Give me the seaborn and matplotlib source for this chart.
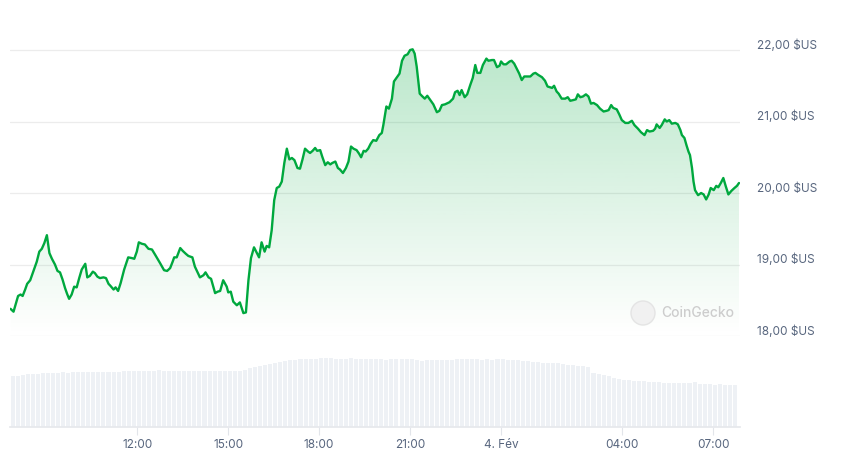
import matplotlib

matplotlib.use("Agg")
import matplotlib.pyplot as plt  # noqa: E402
import matplotlib.transforms as mtransforms  # noqa: E402
import numpy as np  # noqa: E402
import seaborn as sns  # noqa: E402
from matplotlib.patches import Circle  # noqa: E402

# price samples: minutes after 07:48 (3 Feb) and price in $US
minutes = [
    1, 7, 12, 16, 21, 25, 30, 34, 40, 46,
    53, 58, 63, 68, 73, 78, 83, 89, 94, 99,
    104, 109, 113, 117, 122, 127, 132, 137, 142, 149,
    153, 158, 164, 168, 173, 178, 185, 190, 195, 199,
    205, 209, 214, 219, 226, 234, 241, 246, 251, 255,
    261, 267, 274, 281, 287, 297, 305, 311, 317, 322,
    325, 330, 337, 342, 348,
    353, 361, 366, 376, 383, 387, 393, 398, 406, 411,
    416, 422, 429, 432, 437, 442, 449, 455, 462, 467,
    472, 477, 483, 488, 493, 498, 504, 508, 513, 518,
    523, 528, 533, 538, 543, 548, 553, 558, 563, 569,
    574, 579, 584, 590, 594, 599, 604, 608, 614, 618,
    624, 629, 634, 638, 644, 649, 653, 659, 665, 670,
    675, 680, 686, 691, 695, 700, 704, 709, 714, 719,
    725, 731, 736, 739,
    745, 750, 756, 760, 767, 771, 776, 781, 787, 792,
    797, 801, 805, 811, 815, 821, 826, 832, 838, 845,
    850, 855, 861, 870, 877, 881, 886, 890, 894, 900,
    905, 911, 916, 921, 925, 931, 936, 943, 947, 954,
    958, 964, 969, 972, 977, 982, 989, 993, 998, 1003,
    1008, 1013, 1018, 1024, 1030, 1036, 1040, 1046, 1053, 1059,
    1064, 1073, 1077, 1082,
    1086, 1092, 1099, 1104, 1109, 1115, 1120, 1124, 1129, 1134,
    1140, 1145, 1150, 1155, 1162, 1168, 1175, 1181, 1185, 1190,
    1194, 1201, 1206, 1211, 1218, 1224, 1231, 1236, 1243, 1249,
    1256, 1261, 1266, 1273, 1277, 1280, 1286, 1290, 1296, 1300,
    1305, 1310, 1317, 1322, 1327, 1330, 1335, 1339, 1343, 1346,
    1350, 1353, 1356, 1362, 1368, 1373, 1378, 1383, 1387, 1393,
    1398, 1402, 1407, 1412, 1417, 1422, 1428, 1434, 1439, 1443,
]
prices = [
    18.38, 18.34, 18.46, 18.56, 18.58, 18.56, 18.65, 18.73, 18.78, 18.90,
    19.04, 19.18, 19.22, 19.30, 19.41, 19.16, 19.08, 19.00, 18.91, 18.89,
    18.79, 18.67, 18.59, 18.52, 18.58, 18.69, 18.68, 18.81, 18.93, 19.01,
    18.82, 18.84, 18.90, 18.88, 18.83, 18.81, 18.82, 18.81, 18.73, 18.70,
    18.65, 18.68, 18.63, 18.74, 18.93, 19.10, 19.09, 19.08, 19.18, 19.31,
    19.29, 19.28, 19.22, 19.21, 19.14, 19.02, 18.92, 18.91, 18.95, 19.04,
    19.10, 19.10, 19.23, 19.19, 19.15,
    19.12, 19.10, 18.97, 18.82, 18.85, 18.89, 18.82, 18.80, 18.60, 18.62,
    18.63, 18.78, 18.69, 18.61, 18.62, 18.48, 18.43, 18.47, 18.32, 18.33,
    18.78, 19.09, 19.24, 19.17, 19.10, 19.31, 19.18, 19.26, 19.24, 19.48,
    19.90, 20.07, 20.09, 20.16, 20.42, 20.62, 20.47, 20.49, 20.46, 20.35,
    20.34, 20.47, 20.62, 20.58, 20.56, 20.59, 20.63, 20.59, 20.60, 20.51,
    20.39, 20.43, 20.40, 20.42, 20.44, 20.35, 20.33, 20.28, 20.35, 20.44,
    20.65, 20.62, 20.60, 20.55, 20.50, 20.59, 20.58, 20.62, 20.69, 20.74,
    20.73, 20.81, 20.84, 20.95,
    21.21, 21.18, 21.32, 21.56, 21.63, 21.67, 21.85, 21.92, 21.94, 22.00,
    22.01, 21.95, 21.77, 21.39, 21.36, 21.32, 21.36, 21.30, 21.24, 21.13,
    21.15, 21.23, 21.24, 21.27, 21.32, 21.41, 21.43, 21.37, 21.44, 21.34,
    21.38, 21.51, 21.61, 21.79, 21.68, 21.68, 21.79, 21.88, 21.85, 21.86,
    21.86, 21.76, 21.78, 21.84, 21.80, 21.80, 21.84, 21.85, 21.81, 21.74,
    21.67, 21.58, 21.63, 21.63, 21.63, 21.67, 21.68, 21.65, 21.62, 21.57,
    21.49, 21.47, 21.50, 21.42,
    21.39, 21.32, 21.32, 21.34, 21.29, 21.30, 21.31, 21.38, 21.34, 21.35,
    21.38, 21.35, 21.25, 21.26, 21.23, 21.18, 21.14, 21.15, 21.16, 21.23,
    21.19, 21.17, 21.10, 21.02, 20.98, 20.98, 21.01, 20.95, 20.90, 20.85,
    20.81, 20.88, 20.86, 20.87, 20.90, 20.96, 20.91, 20.95, 21.03, 21.00,
    21.02, 20.97, 20.98, 20.96, 20.88, 20.81, 20.77, 20.67, 20.58, 20.53,
    20.35, 20.16, 20.04, 19.97, 20.00, 19.98, 19.91, 19.98, 20.07, 20.04,
    20.10, 20.08, 20.14, 20.21, 20.09, 19.98, 20.03, 20.07, 20.10, 20.14,
]

# volume bars, one per 10 minutes (arbitrary units)
volume = [
    51, 51.5, 52.5, 53, 53.5, 53.5, 54, 54, 54.5, 54.5,
    55, 54.5, 55, 55, 55.5, 55, 55, 55, 55.5, 55.5,
    55.5, 55.5, 56, 56, 56, 56.5, 56.5, 56.5, 56.5, 57,
    56.5, 56.5, 56.5, 56.5, 56.5, 56.5, 56.5, 56.5, 56.5, 56,
    56.5, 56.5, 56, 56.5, 56.5, 56.5, 57.5, 59, 60.5, 61.5,
    62, 63, 64.5, 65.5, 66, 67, 67.5, 68, 68, 68.5,
    68.5, 69, 69, 69, 68.5, 68.5, 68.5, 69, 68.5, 68,
    68, 68, 68, 68, 67.5, 68, 68, 68, 68, 68,
    67.5, 66.5, 67, 67, 67, 67, 67, 67.5, 68, 68,
    68, 68.5, 68.5, 67.5, 68, 67.5, 68.5, 68, 67.5, 67,
    67, 66.5, 66, 65.5, 65, 64.5, 64.5, 64, 64, 63.5,
    62.5, 62, 61.5, 61, 60.5, 54.5, 53, 52, 51, 49.5,
    48.5, 47.5, 47, 46.5, 46, 46, 45.5, 45, 45, 44.5,
    44.5, 44.5, 44.5, 44.5, 44, 45, 43, 43, 43, 42.5,
    43, 42.5, 42.5, 42,
]
vol_minutes = [5 + 10 * i for i in range(len(volume))]

tick_minutes = [252, 432, 612, 792, 972, 1212, 1392]
tick_labels = ["12:00", "15:00", "18:00", "21:00", "4. Fév", "04:00", "07:00"]
price_ticks = [18, 19, 20, 21, 22]
price_labels = ["18,00 $US", "19,00 $US", "20,00 $US", "21,00 $US", "22,00 $US"]

GREEN = "#00a83e"
TEXT = "#58667e"
GRID = "#ececec"
BAR = "#eef1f5"
X_MAX = 1445
Y_MIN, Y_MAX = 18.0, 22.28

sns.set_theme(style="white")
plt.rcParams["font.family"] = ["Inter", "DejaVu Sans"]

fig = plt.figure(figsize=(8.56, 4.63), dpi=100)
fig.patch.set_facecolor("white")
ax = fig.add_axes([10 / 856, 1 - 336 / 463, 730 / 856, 306 / 463])
axv = fig.add_axes([10 / 856, 1 - 427 / 463, 730 / 856, 82 / 463])

# gradient fill under the price line
green_rgb = matplotlib.colors.to_rgb(GREEN)
grad = np.zeros((256, 1, 4))
grad[..., :3] = green_rgb
grad[..., 3] = np.linspace(0.27, 0.0, 256)[:, None]
im = ax.imshow(grad, extent=[0, X_MAX, Y_MIN, max(prices)], aspect="auto",
               origin="upper", zorder=1)
poly = ax.fill_between(minutes, prices, Y_MIN, color="none", lw=0)
im.set_clip_path(poly.get_paths()[0], transform=ax.transData)

sns.lineplot(x=minutes, y=prices, ax=ax, color=GREEN, linewidth=1.7,
             zorder=3, sort=False)

ax.set_xlim(0, X_MAX)
ax.set_ylim(Y_MIN, Y_MAX)
for s in ax.spines.values():
    s.set_visible(False)
ax.set_xticks([])
ax.set_yticks(price_ticks)
ax.set_yticklabels(price_labels)
ax.yaxis.tick_right()
ax.tick_params(axis="y", length=0, pad=12, labelsize=8.5, labelcolor=TEXT)
ax.grid(axis="y", color=GRID, linewidth=0.9)
ax.set_axisbelow(True)
shift = mtransforms.ScaledTranslation(0, 6 / 100, fig.dpi_scale_trans)
for lab in ax.get_yticklabels():
    lab.set_transform(lab.get_transform() + shift)
ax.set_xlabel("")
ax.set_ylabel("")

# volume bars
sns.barplot(x=vol_minutes, y=volume, ax=axv, native_scale=True, color=BAR,
            saturation=1, width=0.8, errorbar=None, linewidth=0)
axv.set_xlim(0, X_MAX)
axv.set_ylim(0, 82)
for name, s in axv.spines.items():
    s.set_visible(name == "bottom")
axv.spines["bottom"].set_color("#e6e8ec")
axv.set_yticks([])
axv.set_xticks(tick_minutes)
axv.set_xticklabels(tick_labels)
axv.tick_params(axis="x", length=6, width=0.8, color="#e2e5ea", pad=3,
                labelsize=8.5, labelcolor=TEXT, bottom=True)
axv.set_xlabel("")
axv.set_ylabel("")

# watermark (round logo placeholder + name), positioned in inches
fig.patches.append(Circle((6.43, (463 - 313) / 100), 0.12,
                          transform=fig.dpi_scale_trans, facecolor="#f1f1f1",
                          edgecolor="#e4e4e4", linewidth=1.0, zorder=0))
fig.text(661 / 856, 1 - 313 / 463, "CoinGecko", color="#cdcdcd",
         fontsize=10, fontweight="medium", va="center", ha="left")

fig.savefig("out.png", dpi=100)
